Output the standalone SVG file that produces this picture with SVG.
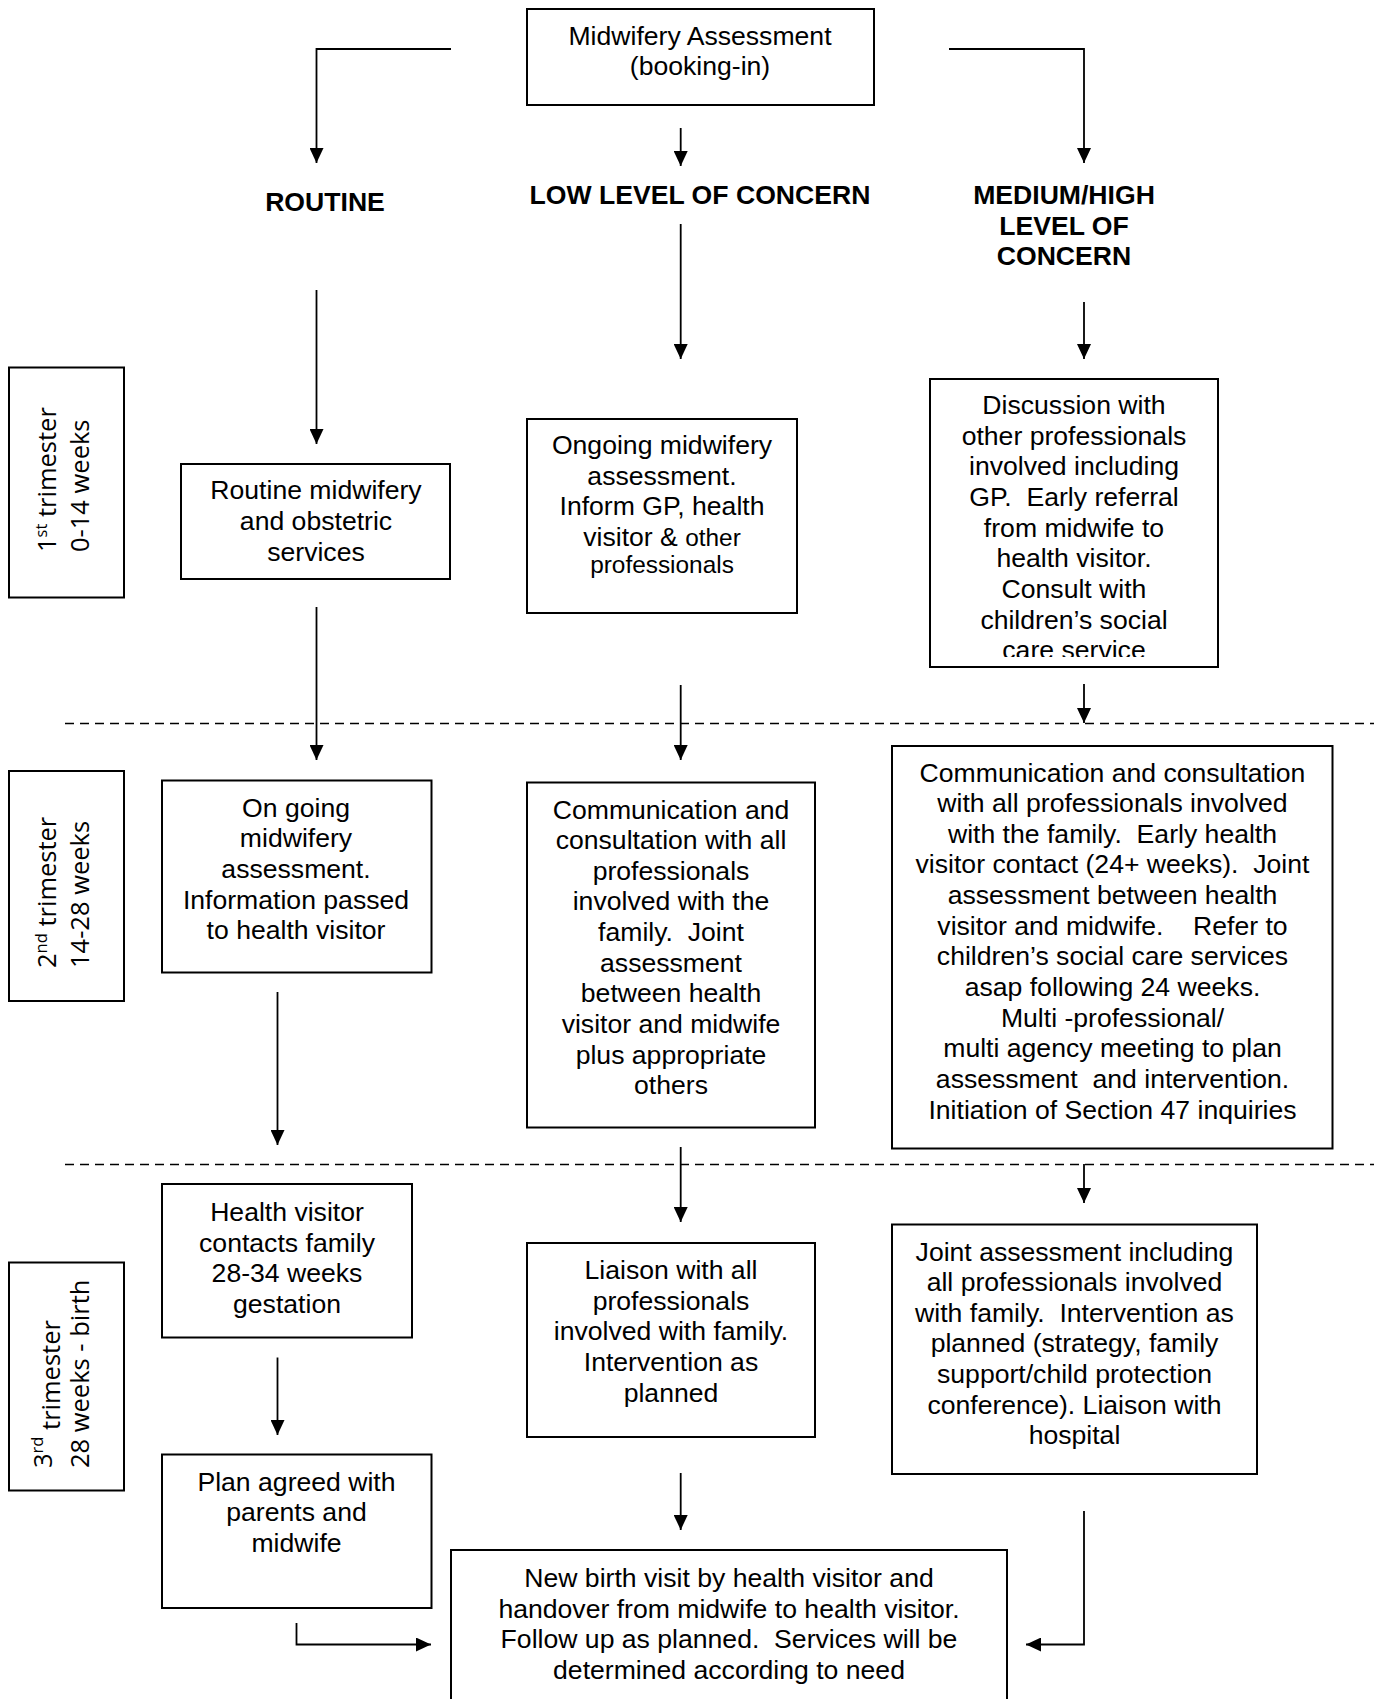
<svg xmlns="http://www.w3.org/2000/svg" width="1382" height="1699" viewBox="0 0 1382 1699">
<style>
.box{fill:#fff;stroke:#000;stroke-width:2}
.t{font-family:"Liberation Sans",Arial,sans-serif;font-size:26.6px;fill:#000;text-anchor:middle;white-space:pre}
.h{font-family:"Liberation Sans",Arial,sans-serif;font-size:26.6px;font-weight:bold;fill:#000;text-anchor:middle}
.s{font-size:24.4px}
.tri{font-family:"Open Sans","DejaVu Sans",sans-serif;font-size:25.5px;fill:#000;white-space:pre}
.sup{font-size:16.5px}
.c{fill:none;stroke:#000;stroke-width:1.8}
.d{fill:none;stroke:#000;stroke-width:1.5;stroke-dasharray:9 6}
</style>
<defs>
<marker id="ah" viewBox="0 0 15 14" refX="15" refY="7" markerWidth="15" markerHeight="14" markerUnits="userSpaceOnUse" orient="auto">
<path d="M0,0 L15,7 L0,14 z" fill="#000"/>
</marker>
<clipPath id="clipDisc"><rect x="930" y="379" width="288" height="278"/></clipPath>
</defs>
<rect width="1382" height="1699" fill="#fff"/>

<g id="separators">
<line class="d" x1="65" y1="723.5" x2="1374" y2="723.5"/>
<line class="d" x1="65" y1="1164.5" x2="1374" y2="1164.5"/>
</g>

<g id="connectors">
<path class="c" d="M451,49 H316.5 V163" marker-end="url(#ah)"/>
<path class="c" d="M680.7,128 V166" marker-end="url(#ah)"/>
<path class="c" d="M949,49 H1084 V163" marker-end="url(#ah)"/>
<path class="c" d="M316.5,290 V444" marker-end="url(#ah)"/>
<path class="c" d="M680.7,224 V359" marker-end="url(#ah)"/>
<path class="c" d="M1084,302 V359" marker-end="url(#ah)"/>
<path class="c" d="M316.5,607 V760" marker-end="url(#ah)"/>
<path class="c" d="M680.7,685 V760" marker-end="url(#ah)"/>
<path class="c" d="M1084,684 V723" marker-end="url(#ah)"/>
<path class="c" d="M277.5,992 V1145" marker-end="url(#ah)"/>
<path class="c" d="M680.7,1147 V1222" marker-end="url(#ah)"/>
<path class="c" d="M1084,1164 V1203" marker-end="url(#ah)"/>
<path class="c" d="M277.5,1357.5 V1435" marker-end="url(#ah)"/>
<path class="c" d="M296.5,1623 V1644.5 H431" marker-end="url(#ah)"/>
<path class="c" d="M680.7,1473 V1530" marker-end="url(#ah)"/>
<path class="c" d="M1084,1511 V1644.5 H1026" marker-end="url(#ah)"/>
</g>

<g id="booking">
<rect class="box" x="527" y="9" width="347" height="96"/>
<text class="t" x="700" y="44.5">Midwifery Assessment</text>
<text class="t" x="700" y="75">(booking-in)</text>
</g>

<g id="hdr-routine"><text class="h" x="325" y="211">ROUTINE</text></g>
<g id="hdr-low"><text class="h" x="700" y="203.5">LOW LEVEL OF CONCERN</text></g>
<g id="hdr-med">
<text class="h" x="1064" y="203.5">MEDIUM/HIGH</text>
<text class="h" x="1064" y="234.5">LEVEL OF</text>
<text class="h" x="1064" y="265.3">CONCERN</text>
</g>

<g id="tri1">
<rect class="box" x="9" y="367.5" width="115" height="230"/>
<text class="tri" transform="translate(56,552) rotate(-90)">1<tspan class="sup" dy="-9">st</tspan><tspan dy="9"> trimester</tspan></text>
<text class="tri" transform="translate(89,552) rotate(-90)">0-14 weeks</text>
</g>
<g id="tri2">
<rect class="box" x="9" y="771" width="115" height="230"/>
<text class="tri" transform="translate(56,968) rotate(-90)">2<tspan class="sup" dy="-9">nd</tspan><tspan dy="9"> trimester</tspan></text>
<text class="tri" transform="translate(89,968) rotate(-90)">14-28 weeks</text>
</g>
<g id="tri3">
<rect class="box" x="9" y="1262.5" width="115" height="228"/>
<text class="tri" transform="translate(52,1468) rotate(-90)">3<tspan class="sup" dy="-9">rd</tspan><tspan dy="17"> trimester</tspan></text>
<text class="tri" transform="translate(89,1468) rotate(-90)">28 weeks - birth</text>
</g>

<g id="routine1">
<rect class="box" x="181" y="464" width="269" height="115"/>
<text class="t" x="316" y="499">Routine midwifery</text>
<text class="t" x="316" y="530">and obstetric</text>
<text class="t" x="316" y="560.5">services</text>
</g>
<g id="low1">
<rect class="box" x="527" y="419" width="270" height="194"/>
<text class="t" x="662" y="454">Ongoing midwifery</text>
<text class="t" x="662" y="484.6">assessment.</text>
<text class="t" x="662" y="515.3">Inform GP, health</text>
<text class="t" x="662" y="545.9">visitor &amp; <tspan class="s">other</tspan></text>
<text class="t s" x="662" y="573">professionals</text>
</g>
<g id="med1">
<rect class="box" x="930" y="379" width="288" height="288"/>
<g clip-path="url(#clipDisc)">
<text class="t" x="1074" y="414">Discussion with</text>
<text class="t" x="1074" y="444.65">other professionals</text>
<text class="t" x="1074" y="475.3">involved including</text>
<text class="t" x="1074" y="505.95">GP.  Early referral</text>
<text class="t" x="1074" y="536.6">from midwife to</text>
<text class="t" x="1074" y="567.25">health visitor.</text>
<text class="t" x="1074" y="597.9">Consult with</text>
<text class="t" x="1074" y="628.55">children’s social</text>
<text class="t" x="1074" y="659.2">care service</text>
</g>
</g>

<g id="routine2">
<rect class="box" x="162" y="780.5" width="269.5" height="192"/>
<text class="t" x="296" y="816.5">On going</text>
<text class="t" x="296" y="847.2">midwifery</text>
<text class="t" x="296" y="877.8">assessment.</text>
<text class="t" x="296" y="908.5">Information passed</text>
<text class="t" x="296" y="939.1">to health visitor</text>
</g>
<g id="low2">
<rect class="box" x="527" y="782.5" width="288" height="345"/>
<text class="t" x="671" y="818.5">Communication and</text>
<text class="t" x="671" y="849.15">consultation with all</text>
<text class="t" x="671" y="879.8">professionals</text>
<text class="t" x="671" y="910.45">involved with the</text>
<text class="t" x="671" y="941.1">family.  Joint</text>
<text class="t" x="671" y="971.75">assessment</text>
<text class="t" x="671" y="1002.4">between health</text>
<text class="t" x="671" y="1033.05">visitor and midwife</text>
<text class="t" x="671" y="1063.7">plus appropriate</text>
<text class="t" x="671" y="1094.35">others</text>
</g>
<g id="med2">
<rect class="box" x="892" y="746" width="440.5" height="402.5"/>
<text class="t" x="1112.5" y="781.5">Communication and consultation</text>
<text class="t" x="1112.5" y="812.15">with all professionals involved</text>
<text class="t" x="1112.5" y="842.8">with the family.  Early health</text>
<text class="t" x="1112.5" y="873.45">visitor contact (24+ weeks).  Joint</text>
<text class="t" x="1112.5" y="904.1">assessment between health</text>
<text class="t" x="1112.5" y="934.75">visitor and midwife.    Refer to</text>
<text class="t" x="1112.5" y="965.4">children’s social care services</text>
<text class="t" x="1112.5" y="996.05">asap following 24 weeks.</text>
<text class="t" x="1112.5" y="1026.7">Multi -professional/</text>
<text class="t" x="1112.5" y="1057.35">multi agency meeting to plan</text>
<text class="t" x="1112.5" y="1088">assessment  and intervention.</text>
<text class="t" x="1112.5" y="1118.65">Initiation of Section 47 inquiries</text>
</g>

<g id="routine3a">
<rect class="box" x="162" y="1184" width="250" height="153.5"/>
<text class="t" x="287" y="1221">Health visitor</text>
<text class="t" x="287" y="1251.6">contacts family</text>
<text class="t" x="287" y="1282.3">28-34 weeks</text>
<text class="t" x="287" y="1313">gestation</text>
</g>
<g id="routine3b">
<rect class="box" x="162" y="1454.5" width="269.5" height="153.5"/>
<text class="t" x="296.5" y="1490.5">Plan agreed with</text>
<text class="t" x="296.5" y="1521.2">parents and</text>
<text class="t" x="296.5" y="1551.8">midwife</text>
</g>
<g id="low3">
<rect class="box" x="527" y="1243" width="288" height="194"/>
<text class="t" x="671" y="1279">Liaison with all</text>
<text class="t" x="671" y="1309.6">professionals</text>
<text class="t" x="671" y="1340.3">involved with family.</text>
<text class="t" x="671" y="1371">Intervention as</text>
<text class="t" x="671" y="1401.6">planned</text>
</g>
<g id="med3">
<rect class="box" x="892" y="1224.5" width="365" height="249.5"/>
<text class="t" x="1074.5" y="1260.5">Joint assessment including</text>
<text class="t" x="1074.5" y="1291.15">all professionals involved</text>
<text class="t" x="1074.5" y="1321.8">with family.  Intervention as</text>
<text class="t" x="1074.5" y="1352.45">planned (strategy, family</text>
<text class="t" x="1074.5" y="1383.1">support/child protection</text>
<text class="t" x="1074.5" y="1413.75">conference). Liaison with</text>
<text class="t" x="1074.5" y="1444.4">hospital</text>
</g>
<g id="newbirth">
<rect class="box" x="451" y="1550" width="556" height="170"/>
<text class="t" x="729" y="1587">New birth visit by health visitor and</text>
<text class="t" x="729" y="1617.65">handover from midwife to health visitor.</text>
<text class="t" x="729" y="1648.3">Follow up as planned.  Services will be</text>
<text class="t" x="729" y="1678.95">determined according to need</text>
</g>
</svg>
